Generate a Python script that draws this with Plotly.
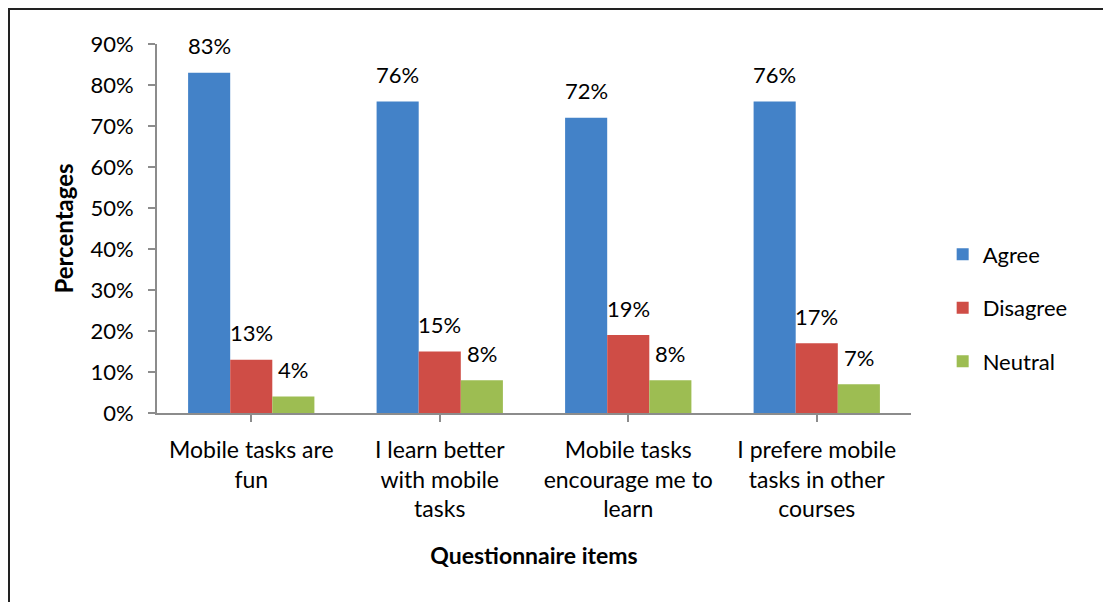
import plotly.graph_objects as go

categories = [
    "Mobile tasks are<br>fun",
    "I learn better<br>with mobile<br>tasks",
    "Mobile tasks<br>encourage me to<br>learn",
    "I prefere mobile<br>tasks in other<br>courses",
]
series_names = ["Agree", "Disagree", "Neutral"]
agree = [83, 76, 72, 76]
disagree = [13, 15, 19, 17]
neutral = [4, 8, 8, 7]
series_values = [agree, disagree, neutral]
y_ticks = [0, 10, 20, 30, 40, 50, 60, 70, 80, 90]

colors = ["#4382c8", "#cf4d46", "#9dbd52"]
font_family = "Lato, 'Open Sans', sans-serif"
bargap = 0.33
bar_w = (1 - bargap) / len(series_names)

# page body has an 8px margin, so the plot box is set 8px up/left
L, T, R, B = 149, 36, 208, 197
pw, ph = 1111 - L - R, 602 - T - B

fig = go.Figure()
for name, vals, col in zip(series_names, series_values, colors):
    fig.add_trace(go.Bar(
        x=list(range(len(categories))),
        y=vals,
        name=name,
        legendgroup=name,
        marker=dict(color=col, line=dict(width=0)),
        hoverinfo="y+name",
    ))

# value labels above each bar
annotations = []
for k, vals in enumerate(series_values):
    for i, v in enumerate(vals):
        annotations.append(dict(
            x=i + (k - 1) * bar_w, y=v, xref="x", yref="y",
            text=f"{v}%", showarrow=False, yanchor="middle", yshift=27,
            font=dict(family=font_family, size=22, color="black"),
        ))

fig.update_layout(
    width=1111, height=602,
    margin=dict(l=L, r=R, t=T, b=B),
    paper_bgcolor="white", plot_bgcolor="white",
    barmode="group", bargap=bargap, bargroupgap=0,
    font=dict(family=font_family, size=22, color="black"),
    showlegend=True,
    legend=dict(
        x=1.042, y=0.285, xanchor="left", yanchor="middle",
        traceorder="grouped", tracegroupgap=22,
        font=dict(family=font_family, size=22, color="black"),
        itemwidth=30,
    ),
    xaxis=dict(
        tickmode="array", tickvals=list(range(len(categories))), ticktext=categories,
        range=[-0.5, len(categories) - 0.5],
        tickfont=dict(size=23),
        showline=True, linecolor="#8c8c8c", linewidth=2,
        ticks="outside", tickson="boundaries", ticklen=7, tickcolor="#8c8c8c", tickwidth=2,
        ticklabelstandoff=8,
        showgrid=False, zeroline=False,
        title=dict(text="<b>Questionnaire items</b>", standoff=26,
                   font=dict(family=font_family, size=23, color="black")),
    ),
    yaxis=dict(
        range=[0, 90], tickvals=y_ticks, ticktext=[f"{t}%" for t in y_ticks],
        showline=True, linecolor="#8c8c8c", linewidth=2,
        ticks="outside", ticklen=7, tickcolor="#8c8c8c", tickwidth=2,
        ticklabelstandoff=10,
        showgrid=False, zeroline=False,
        title=dict(text="<b>Percentages</b>", standoff=10,
                   font=dict(family=font_family, size=24, color="black")),
    ),
    annotations=annotations,
    shapes=[dict(
        type="rect", xref="paper", yref="paper",
        x0=(1 - L) / pw, x1=(1102 - L) / pw,
        y0=-(B + 20) / ph, y1=(602 - B - 1) / ph,
        line=dict(color="#222222", width=2), fillcolor="rgba(0,0,0,0)", layer="below",
    )],
)

fig.write_html("out.html")
